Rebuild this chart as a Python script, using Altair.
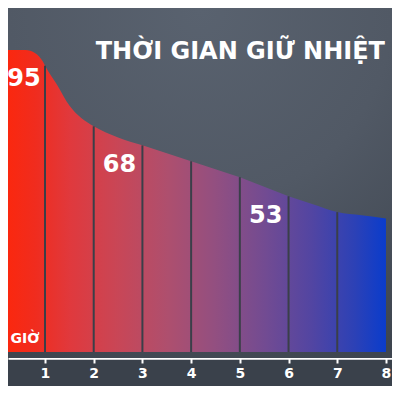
import altair as alt
import pandas as pd

# data
hours = [0, 0.6, 0.8, 0.95, 1, 1.25, 1.5, 1.75, 2, 2.5, 3, 3.5, 4, 4.5, 5, 5.5, 6, 6.5, 7, 7.5, 8]
temps = [95, 95, 94, 91.5, 90, 84, 77.5, 73.5, 71, 67.5, 65, 62.5, 60, 57.5, 55, 52, 49, 46.5, 44, 43, 42]
sep_hours = [1, 2, 3, 4, 5, 6, 7]
sep_temps = [90, 71, 65, 60, 55, 49, 44]
label_hours = [0.57, 2.53, 5.53]
label_temps = [95, 68, 52]
label_text = ["95", "68", "53"]
tick_values = [1, 2, 3, 4, 5, 6, 7, 8]
title_text = "THỜI GIAN GIỮ NHIỆT"
unit_text = "GIỜ"

curve = pd.DataFrame({"h": hours, "t": temps})
seps = pd.DataFrame({"h": sep_hours, "t": sep_temps})
labels = pd.DataFrame({"h": label_hours, "t": label_temps, "txt": label_text})

xs = alt.Scale(domain=[0.2404, 8.124], nice=False, zero=False)
ys = alt.Scale(domain=[-1.89, 108.2], nice=False, zero=False)

W, H = 384, 350

bg = alt.Chart(pd.DataFrame({"a": [0]})).mark_rect(
    fill=alt.Gradient(
        gradient="radial",
        stops=[alt.GradientStop(color="#59626f", offset=0),
               alt.GradientStop(color="#515965", offset=0.5),
               alt.GradientStop(color="#3e454f", offset=1)],
        x1=0.5, y1=0.05, r1=0, x2=0.5, y2=0.05, r2=1.0),
).encode(x=alt.value(0), x2=alt.value("width"), y=alt.value(0), y2=alt.value("height"))

area = alt.Chart(curve).mark_area(
    interpolate="monotone", clip=True,
    fill=alt.Gradient(
        gradient="linear",
        stops=[alt.GradientStop(color="#ff2608", offset=0),
               alt.GradientStop(color="#f02c1e", offset=0.1),
               alt.GradientStop(color="#e0393d", offset=0.19),
               alt.GradientStop(color="#c94656", offset=0.31),
               alt.GradientStop(color="#ae4f6e", offset=0.44),
               alt.GradientStop(color="#934f80", offset=0.56),
               alt.GradientStop(color="#724b92", offset=0.69),
               alt.GradientStop(color="#5245a2", offset=0.81),
               alt.GradientStop(color="#2c41b6", offset=0.92),
               alt.GradientStop(color="#0a3ccc", offset=1)],
        x1=0, y1=0, x2=1, y2=0),
).encode(
    x=alt.X("h:Q", scale=xs, axis=alt.Axis(
        values=tick_values, title=None, grid=False, domainColor="white", domainWidth=2.5,
        tickColor="white", tickWidth=2, tickSize=5, labelColor="white", labelFontSize=14,
        labelFontWeight="bold", labelFont="DejaVu Sans", labelPadding=3, format="d")),
    y=alt.Y("t:Q", scale=ys, axis=None),
    y2=alt.datum(0),
)

sep = alt.Chart(seps).mark_rule(color="#3a3f49", strokeWidth=2).encode(
    x=alt.X("h:Q", scale=xs), y=alt.Y("t:Q", scale=ys), y2=alt.datum(0))

txt = alt.Chart(labels).mark_text(
    font="DejaVu Sans", fontSize=24, fontWeight="bold", color="white",
    baseline="middle", dy=29).encode(
    x=alt.X("h:Q", scale=xs), y=alt.Y("t:Q", scale=ys), text="txt:N")

unit = alt.Chart(pd.DataFrame({"h": [0.59], "t": [0], "txt": [unit_text]})).mark_text(
    font="DejaVu Sans", fontSize=14, fontWeight="bold", color="white",
    baseline="middle", dy=-13).encode(
    x=alt.X("h:Q", scale=xs), y=alt.Y("t:Q", scale=ys), text="txt:N")

title_df = pd.DataFrame({"txt": [title_text]})
title = alt.Chart(title_df).mark_text(
    font="DejaVu Sans", fontSize=24, fontWeight="bold", color="white",
    align="right", baseline="middle").encode(
    x=alt.value(377), y=alt.value(44), text="txt:N")

chart = alt.layer(bg, area, sep, txt, unit, title).properties(
    width=W, height=H, background="#3a414b",
    padding={"left": 0, "top": 0, "right": 0, "bottom": 28},
    autosize=alt.AutoSizeParams(type="none"),
).configure_view(stroke=None)

chart.save("out.html", embed_options={"renderer": "svg", "actions": False})
